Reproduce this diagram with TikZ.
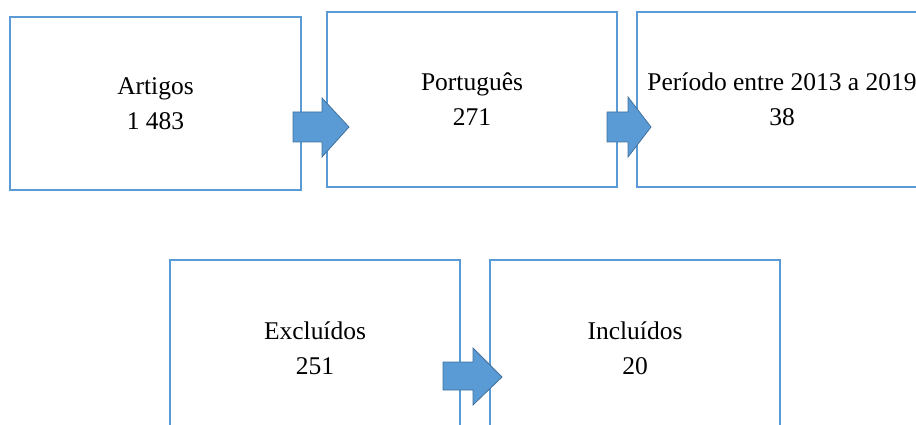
\documentclass[tikz,border=0pt]{standalone}
\usepackage{fontspec}
\setmainfont{Liberation Serif}
\definecolor{boxline}{RGB}{91,155,213}
\definecolor{arrowfill}{RGB}{91,155,213}
\definecolor{arrowline}{RGB}{65,113,156}
\begin{document}
\begin{tikzpicture}[x=1pt,y=-1pt,
  stepbox/.style={draw=boxline,line width=1.5pt,rectangle,inner sep=0pt,
    align=center,font=\fontsize{25.5}{35}\selectfont},
  blockarrow/.style={fill=arrowfill,draw=arrowline,line width=0.8pt,line join=miter}]
\useasboundingbox (0,0) rectangle (916,425);
\clip (0,0) rectangle (916,425);
\node[stepbox,minimum width=291pt,minimum height=173pt] (b1) at (155.5,103.5) {Artigos\\1 483};
\node[stepbox,minimum width=290pt,minimum height=175pt] (b2) at (472,99.5) {Português\\271};
\node[stepbox,minimum width=290pt,minimum height=175pt] (b3) at (782,99.5) {Período entre 2013 a 2019\\38};
\node[stepbox,minimum width=290pt,minimum height=176pt] (b4) at (315,348) {Excluídos\\251};
\node[stepbox,minimum width=290pt,minimum height=176pt] (b5) at (635,348) {Incluídos\\20};
% block arrows
\draw[blockarrow] (293,112) -- (322,112) -- (322,98) -- (349,127) -- (322,157) -- (322,142) -- (293,142) -- cycle;
\draw[blockarrow] (607,112) -- (628,112) -- (628,97) -- (651,127) -- (628,157) -- (628,142) -- (607,142) -- cycle;
\draw[blockarrow] (443,362) -- (473,362) -- (473,348) -- (502,377) -- (473,405) -- (473,390) -- (443,390) -- cycle;
\end{tikzpicture}
\end{document}
